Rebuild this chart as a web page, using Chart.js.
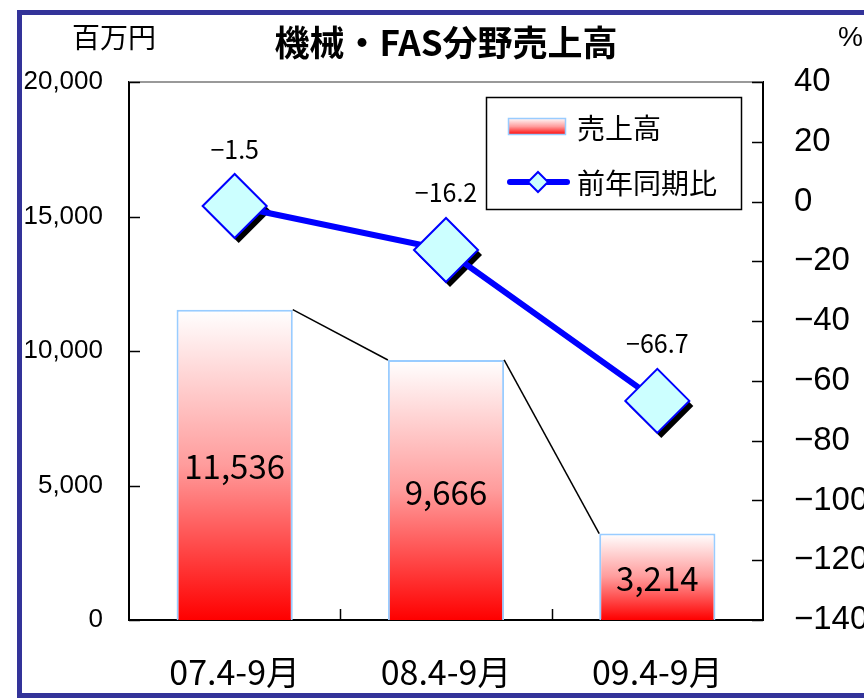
<!DOCTYPE html>
<html>
<head>
<meta charset="utf-8">
<script src="https://cdn.jsdelivr.net/npm/chart.js@4.4.0/dist/chart.umd.min.js"></script>
<style>
html, body { margin: 0; padding: 0; background: #fff; overflow: hidden; }
canvas { display: block; }
</style>
</head>
<body>
<canvas id="fasChart" width="864" height="698" style="width:864px;height:698px"></canvas>
<script>
// data
let periods = ['07.4-9月', '08.4-9月', '09.4-9月'];
let salesArr = [11536, 9666, 3214];      // 百万円
let yoyArr = [-1.5, -16.2, -66.7];       // %
let salesTicks = { min: 0, max: 20000, step: 5000 };
let yoyTicks = { min: -140, max: 40, step: 20 };

const JP = '"Noto Sans CJK JP", "Noto Sans", sans-serif';
const LAT = '"Liberation Sans", Arial, sans-serif';

function fillGradient(ctx, top, bottom) {
    const g = ctx.createLinearGradient(0, top, 0, bottom);
    g.addColorStop(0, '#ffffff');
    g.addColorStop(0.5, '#ff9c9c');
    g.addColorStop(1, '#ff0000');
    return g;
}

function barGradient(context) {
    const chart = context.chart;
    if (!chart.chartArea || context.dataIndex === undefined) return '#ff6666';
    const y = chart.scales.y;
    return fillGradient(chart.ctx, y.getPixelForValue(salesArr[context.dataIndex]), y.getPixelForValue(0));
}

function diamond(ctx, x, y, r) {
    ctx.beginPath();
    ctx.moveTo(x, y - r);
    ctx.lineTo(x + r, y);
    ctx.lineTo(x, y + r);
    ctx.lineTo(x - r, y);
    ctx.closePath();
}

// frame + background
const framePlugin = {
    id: 'frame',
    beforeDraw(chart) {
        const ctx = chart.ctx;
        ctx.save();
        ctx.fillStyle = '#fff';
        ctx.fillRect(0, 0, chart.width, chart.height);
        ctx.strokeStyle = '#333399';
        ctx.lineWidth = 5;
        ctx.strokeRect(19.5, 12.5, 900, 683);
        ctx.restore();
    }
};

// shadow under the diamonds
const shadowPlugin = {
    id: 'diamondShadow',
    beforeDatasetDraw(chart, args) {
        if (args.index !== 1) return;
        const ctx = chart.ctx;
        ctx.save();
        ctx.fillStyle = '#000';
        args.meta.data.forEach(p => {
            diamond(ctx, p.x + 4, p.y + 5, 32);
            ctx.fill();
        });
        ctx.restore();
    }
};

// thin lines joining bar tops
const connectorPlugin = {
    id: 'connectors',
    afterDatasetDraw(chart, args) {
        if (args.index !== 0) return;
        const ctx = chart.ctx;
        const bars = args.meta.data;
        ctx.save();
        ctx.strokeStyle = '#000';
        ctx.lineWidth = 1.5;
        for (let i = 0; i < bars.length - 1; i++) {
            const a = bars[i], b = bars[i + 1];
            ctx.beginPath();
            ctx.moveTo(a.x + a.width / 2, a.y);
            ctx.lineTo(b.x - b.width / 2, b.y);
            ctx.stroke();
        }
        ctx.restore();
    }
};

// axis decoration: gray top line and inward tick marks
const axisPlugin = {
    id: 'axisDeco',
    afterDraw(chart) {
        const ctx = chart.ctx;
        const area = chart.chartArea;
        ctx.save();
        ctx.strokeStyle = '#999';
        ctx.lineWidth = 2;
        ctx.beginPath();
        ctx.moveTo(area.left, area.top);
        ctx.lineTo(area.right, area.top);
        ctx.stroke();

        ctx.strokeStyle = '#000';
        ctx.lineWidth = 1.5;
        const yl = chart.scales.y, yr = chart.scales.y1;
        yl.ticks.forEach(t => {
            const py = Math.round(yl.getPixelForValue(t.value)) + 0.5;
            ctx.beginPath(); ctx.moveTo(area.left, py); ctx.lineTo(area.left + 11, py); ctx.stroke();
        });
        yr.ticks.forEach(t => {
            const py = Math.round(yr.getPixelForValue(t.value)) + 0.5;
            ctx.beginPath(); ctx.moveTo(area.right, py); ctx.lineTo(area.right - 11, py); ctx.stroke();
        });
        const step = (area.right - area.left) / periods.length;
        for (let i = 1; i < periods.length; i++) {
            const px = Math.round(area.left + step * i) + 0.5;
            ctx.beginPath(); ctx.moveTo(px, area.bottom); ctx.lineTo(px, area.bottom - 11); ctx.stroke();
        }
        ctx.restore();
    }
};

// value labels, titles, legend
const labelPlugin = {
    id: 'labels',
    afterDraw(chart) {
        const ctx = chart.ctx;
        ctx.save();
        ctx.fillStyle = '#000';
        ctx.textAlign = 'center';
        ctx.textBaseline = 'middle';

        ctx.font = '33px ' + JP;
        chart.getDatasetMeta(0).data.forEach((b, i) => {
            ctx.fillText(salesArr[i].toLocaleString('en-US'), b.x, (b.y + b.base) / 2 + 2);
        });
        ctx.font = '25px ' + JP;
        chart.getDatasetMeta(1).data.forEach((p, i) => {
            ctx.fillText('−' + Math.abs(yoyArr[i]).toFixed(1), p.x, p.y - 57);
        });

        ctx.font = 'bold 35px ' + JP;
        ctx.fillText('機械・FAS分野売上高', 446, 43);
        ctx.font = '28px ' + JP;
        ctx.fillText('百万円', 114, 37);
        ctx.textAlign = 'left';
        ctx.font = '28px ' + LAT;
        ctx.fillText('%', 838, 38);

        // legend
        ctx.fillStyle = '#fff';
        ctx.fillRect(486, 97, 256, 113);
        ctx.strokeStyle = '#000';
        ctx.lineWidth = 1.5;
        ctx.strokeRect(486.5, 97.5, 255, 112);
        ctx.fillStyle = fillGradient(ctx, 118, 135);
        ctx.fillRect(508, 118, 58, 17);
        ctx.strokeStyle = '#99ccff';
        ctx.lineWidth = 1.5;
        ctx.strokeRect(508.5, 118.5, 57, 16);
        ctx.strokeStyle = '#0000ff';
        ctx.lineWidth = 6;
        ctx.lineCap = 'round';
        ctx.beginPath(); ctx.moveTo(510, 182); ctx.lineTo(567, 182); ctx.stroke();
        diamond(ctx, 538, 182, 10);
        ctx.fillStyle = '#ccffff';
        ctx.fill();
        ctx.lineWidth = 2;
        ctx.stroke();
        ctx.fillStyle = '#000';
        ctx.font = '28px ' + JP;
        ctx.fillText('売上高', 577, 128);
        ctx.fillText('前年同期比', 577, 183);
        ctx.restore();
    }
};

const ctx = document.getElementById('fasChart').getContext('2d');

const fasChart = new Chart(ctx, {
    data: {
        labels: periods,
        datasets: [{
                type: 'bar',
                label: '売上高',
                data: salesArr,
                yAxisID: 'y',
                order: 1,
                backgroundColor: barGradient,
                borderColor: '#99ccff',
                borderWidth: 2,
                categoryPercentage: 1,
                barPercentage: 0.55
            },
            {
                type: 'line',
                label: '前年同期比',
                data: yoyArr,
                yAxisID: 'y1',
                order: 0,
                borderColor: '#0000ff',
                borderWidth: 6,
                tension: 0,
                pointStyle: 'rectRot',
                pointRadius: 32,
                pointHoverRadius: 32,
                pointBackgroundColor: '#ccffff',
                pointBorderColor: '#0000ff',
                pointBorderWidth: 2
            }]
    },
    options: {
        responsive: false,
        animation: false,
        devicePixelRatio: 1,
        layout: { padding: { top: 82, left: 0, right: 0, bottom: 0 } },
        scales: {
            x: {
                grid: { display: false },
                border: { color: '#000', width: 2 },
                ticks: { color: '#000', padding: 24, font: { family: JP, size: 34 } },
                afterFit: s => { s.height = 78; }
            },
            y: {
                position: 'left',
                min: salesTicks.min,
                max: salesTicks.max,
                grid: { display: false },
                border: { color: '#000', width: 2 },
                ticks: {
                    stepSize: salesTicks.step,
                    color: '#000',
                    padding: 18,
                    font: { family: LAT, size: 26 },
                    callback: v => v.toLocaleString('en-US')
                },
                afterFit: s => { s.width = 129; }
            },
            y1: {
                position: 'right',
                min: yoyTicks.min,
                max: yoyTicks.max,
                grid: { display: false },
                border: { color: '#000', width: 2 },
                ticks: {
                    stepSize: yoyTicks.step,
                    color: '#000',
                    padding: 23,
                    font: { family: LAT, size: 33 },
                    callback: v => v < 0 ? '−' + Math.abs(v) : String(v)
                },
                afterFit: s => { s.width = 101; }
            }
        },
        plugins: {
            legend: { display: false },
            tooltip: { enabled: false }
        }
    },
    plugins: [framePlugin, shadowPlugin, connectorPlugin, axisPlugin, labelPlugin]
});
</script>
</body>
</html>
